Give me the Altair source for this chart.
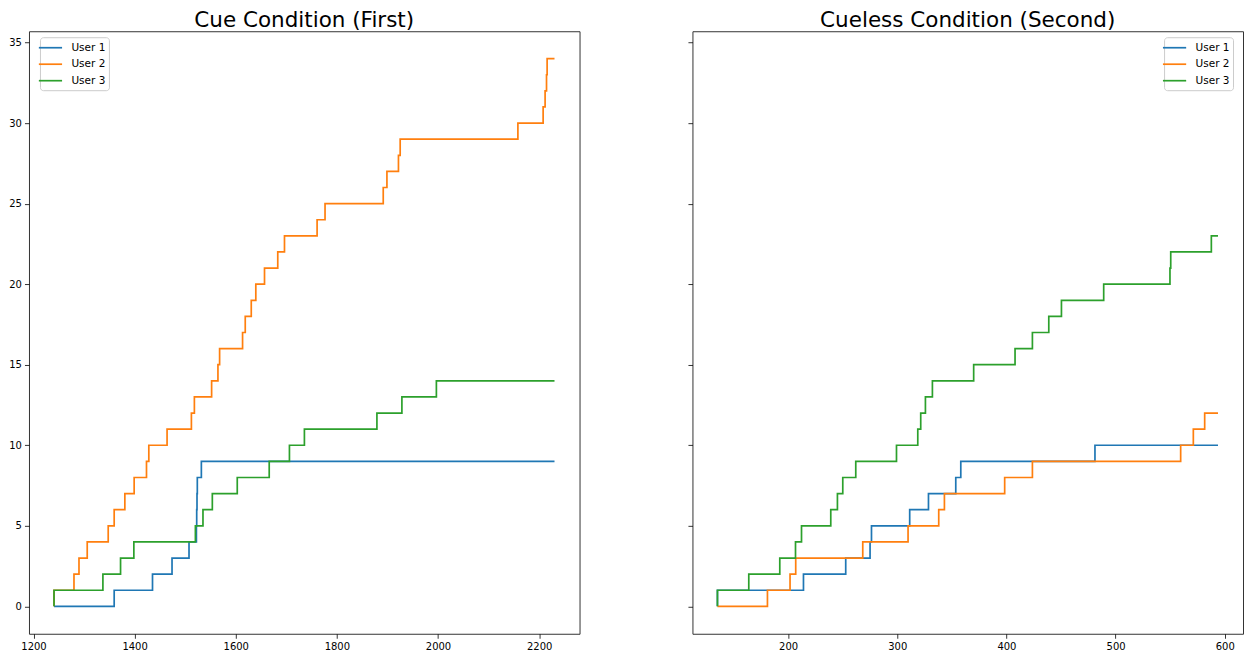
import altair as alt
import pandas as pd

# Event times (seconds) at which each user's cumulative count goes up by one
cue_start, cue_end = 1240.6, 2230.4
cue_user1 = [1359.6, 1435.4, 1474.0, 1507.6, 1522.2, 1522.8, 1523.4, 1524.0, 1532.0]
cue_user2 = [1240.6, 1280.1, 1290.0, 1306.3, 1347.8, 1359.6, 1380.7, 1399.1, 1423.5,
             1428.1, 1464.2, 1512.3, 1518.2, 1552.3, 1564.8, 1568.1, 1613.5, 1618.8,
             1630.7, 1639.7, 1656.9, 1683.1, 1696.4, 1760.9, 1776.6, 1891.7, 1899.0,
             1921.8, 1925.2, 2158.0, 2207.9, 2211.8, 2214.6, 2215.8]
cue_user3 = [1240.6, 1337.3, 1372.2, 1398.5, 1520.2, 1535.2, 1553.7, 1603.0, 1666.2,
             1706.2, 1735.8, 1879.2, 1928.6, 1996.8]

cueless_start, cueless_end = 135.3, 593.8
cueless_user1 = [135.3, 214.1, 252.8, 275.1, 276.4, 311.4, 328.6, 353.6, 358.2, 481.1]
cueless_user2 = [181.1, 201.8, 207.0, 268.4, 309.9, 338.0, 343.2, 398.4, 423.8,
                 559.6, 571.2, 581.6]
cueless_user3 = [135.3, 164.0, 192.4, 206.8, 212.3, 239.1, 245.2, 250.1, 262.0,
                 299.3, 318.8, 321.5, 325.8, 332.2, 370.0, 407.9, 423.8, 438.8,
                 450.4, 489.1, 549.8, 550.5, 587.7]

users = ["User 1", "User 2", "User 3"]
colors = ["#1f77b4", "#ff7f0e", "#2ca02c"]

cue_x_ticks = [1200, 1400, 1600, 1800, 2000, 2200]
cueless_x_ticks = [200, 300, 400, 500, 600]
y_ticks = [0, 5, 10, 15, 20, 25, 30, 35]

FONT = "DejaVu Sans"


def cumulative(start, end, series):
    rows = []
    for user, times in zip(users, series):
        seq = 0
        rows.append({"t": start, "count": 0, "user": user, "seq": seq})
        for k, t in enumerate(times, start=1):
            seq += 1
            rows.append({"t": t, "count": k, "user": user, "seq": seq})
        rows.append({"t": end, "count": len(times), "user": user, "seq": seq + 1})
    return pd.DataFrame(rows)


def panel(df, title, x_domain, x_ticks, show_y_labels, legend_x):
    # horizontal line-sample symbol, twice as wide as the unit box
    legend = alt.Legend(
        title=None, orient="none", legendX=legend_x, legendY=6,
        fillColor="white", strokeColor="#cccccc", cornerRadius=3, padding=3.5,
        symbolType="M-2,0L2,0", symbolSize=135, symbolStrokeWidth=1.7,
        labelFont=FONT, labelFontSize=10.5, labelColor="#000", labelOffset=14,
        rowPadding=3.5,
    )
    return alt.Chart(df).mark_line(
        interpolate="step-after", strokeWidth=1.7
    ).encode(
        x=alt.X("t:Q", scale=alt.Scale(domain=x_domain, nice=False, zero=False),
                axis=alt.Axis(values=x_ticks, format="d", title=None, grid=False,
                              domain=False, tickSize=4.5, tickWidth=0.8,
                              tickColor="#000", labelPadding=3,
                              labelFont=FONT, labelFontSize=10, labelColor="#000")),
        y=alt.Y("count:Q", scale=alt.Scale(domain=[-1.7, 35.7], nice=False, zero=False),
                axis=alt.Axis(values=y_ticks, format="d", title=None, grid=False,
                              domain=False, tickSize=4.5, tickWidth=0.8,
                              tickColor="#000", labelPadding=3,
                              labels=show_y_labels,
                              labelFont=FONT, labelFontSize=10, labelColor="#000")),
        color=alt.Color("user:N", scale=alt.Scale(domain=users, range=colors),
                        legend=legend),
        order="seq:Q",
    ).properties(
        width=551, height=603,
        title=alt.Title(title, font=FONT, fontSize=21.5, fontWeight="normal",
                        color="#000", anchor="middle", frame="group",
                        baseline="alphabetic", offset=-17),
    )


left = panel(cumulative(cue_start, cue_end, [cue_user1, cue_user2, cue_user3]),
             "Cue Condition (First)", [1191.1, 2279.9], cue_x_ticks, True, 11)
right = panel(cumulative(cueless_start, cueless_end,
                         [cueless_user1, cueless_user2, cueless_user3]),
              "Cueless Condition (Second)", [112.4, 616.7], cueless_x_ticks, False, 472)

chart = alt.hconcat(left, right, spacing=106).resolve_scale(
    color="independent"
).properties(
    padding={"left": 8, "top": 9, "right": 0, "bottom": 5},
    background="white",
).configure_view(
    stroke="#333", strokeWidth=1
)

chart.save("out.html", embed_options={"renderer": "svg", "actions": False})
